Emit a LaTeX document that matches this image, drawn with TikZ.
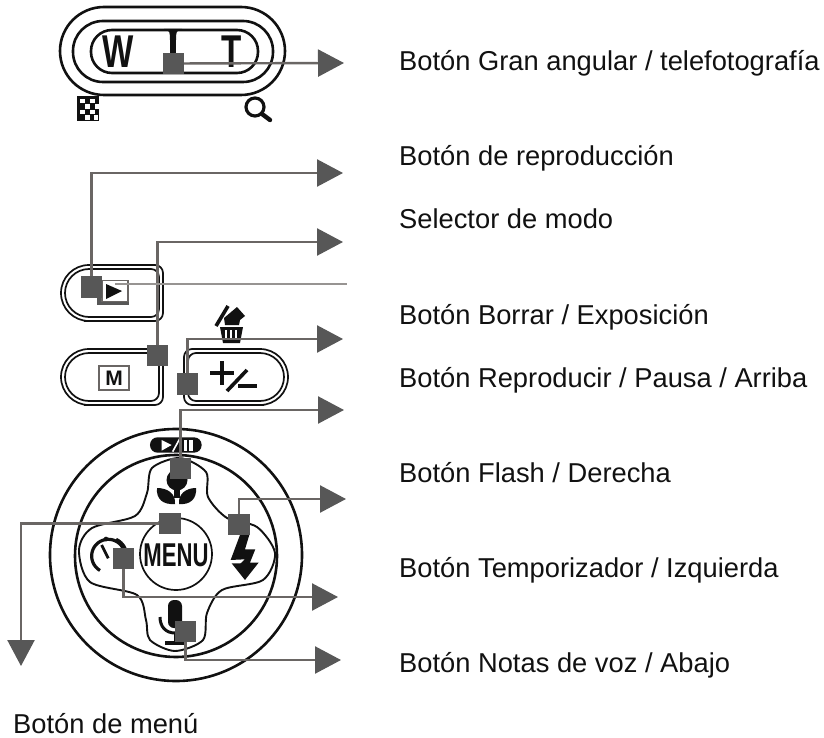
\documentclass[tikz,border=0pt]{standalone}
\usepackage{fontspec}
\setmainfont{Liberation Sans}
\usetikzlibrary{arrows.meta}
\definecolor{sq}{HTML}{575757}
\definecolor{ln}{HTML}{6A6664}
\definecolor{ink}{HTML}{111111}
\tikzset{
  x=1pt,y=-1pt,
  sqnode/.style={fill=sq,minimum width=21pt,minimum height=21pt,inner sep=0pt,draw=none},
  conn/.style={draw=ln,line width=2.4pt,-{Triangle[length=26pt,width=27pt,color=sq]}},
  lab/.style={anchor=base west,inner sep=0pt,text=ink,font=\fontsize{27.3}{30}\selectfont},
  shape line/.style={draw=ink,line width=1.7pt},
  thick line/.style={draw=ink,line width=2.6pt},
}
\newcommand{\leftpill}[5]{%
 \draw[shape line] ({(#1+#3)/2},#2) [rounded corners=#5pt] -- (#1,#2) -- (#1,#4) -- ({(#1+#3)/2},#4) [rounded corners=8pt] -- (#3,#4) -- (#3,#2) -- cycle;}
\newcommand{\rightpill}[5]{%
 \draw[shape line] ({(#1+#3)/2},#2) [rounded corners=#5pt] -- (#3,#2) -- (#3,#4) -- ({(#1+#3)/2},#4) [rounded corners=8pt] -- (#1,#4) -- (#1,#2) -- cycle;}
\begin{document}
\begin{tikzpicture}
\useasboundingbox (0,0) rectangle (824,738);
\fill[white] (0,0) rectangle (824,738);

% zoom / wide-tele button
\draw[thick line,rounded corners=44pt] (60,7) rectangle (285,95);
\draw[thick line,rounded corners=30pt] (73,21) rectangle (273,82);
\draw[thick line,rounded corners=21pt] (91,30) rectangle (258,73);
\draw[line width=6pt,draw=ink] (173,38) -- (173,56);
\fill[ink] (164,29) .. controls (170,30) and (170,33) .. (170,40) -- (176,40) .. controls (176,33) and (176,30) .. (182,29) -- cycle;
\node[inner sep=0pt,text=ink,font=\fontsize{46}{46}\selectfont\bfseries,xscale=.72] (wlab) at (118,52) {W};
\node[inner sep=0pt,text=ink,font=\fontsize{46}{46}\selectfont\bfseries,xscale=.72] (tlab) at (232,52) {T};
% checker
\fill[ink] (77,96) rectangle (99,121);
\foreach \cx/\cy in {80/99,90/99,85/104.5,95/104.5,80/110,90/110,85/115.5,93.5/115.5}
  \fill[white] (\cx,\cy) rectangle ++(4.5,4.5);
% magnifier
\draw[draw=ink,line width=3.2pt] (255,107) circle (9);
\draw[draw=ink,line width=4.4pt,line cap=round] (262,114) -- (270,120);

% play button
\leftpill{61}{265}{163}{321}{28}
\leftpill{65}{269}{159}{317}{24}
\fill[sq] (97,283) rectangle (129,305);
\node[draw=ln,fill=white,line width=1.5pt,minimum width=26pt,minimum height=21pt,inner sep=0pt] (playicon) at (115,291) {};
\fill[ink] (106,284) -- (122,291) -- (106,299) -- cycle;

% M button
\leftpill{61}{349}{163}{405}{28}
\leftpill{65}{353}{159}{401}{24}
\node[draw=ln,fill=white,line width=2.6pt,minimum width=30pt,minimum height=24pt,inner sep=0pt,text=ink,font=\fontsize{21}{21}\selectfont\bfseries] (mbox) at (114,378) {M};

% +/- button
\rightpill{184}{349}{288}{405}{28}
\rightpill{188}{353}{284}{401}{24}
\draw[draw=ink,line width=3.6pt] (222,361) -- (222,385) (210,373) -- (234,373);
\draw[draw=ink,line width=3.6pt] (227,391) -- (247,370);
\draw[draw=ink,line width=3.6pt] (238,386) -- (257,386);
% trash + erase sign
\draw[draw=ink,line width=3.6pt] (216,326) -- (228,306);
\fill[ink] (237,307) -- (245,316) -- (240,320) -- (239,325) -- (225,325) -- (224,318) -- cycle;
\fill[ink] (220,327) -- (243,327) -- (240,343) -- (223,343) -- cycle;
\foreach \tx in {226,231,236} \draw[white,line width=1.3pt] (\tx,330) -- (\tx,339);

% dial
\draw[thick line] (176,555) circle (126);
\draw[thick line] (176,556) circle (101);
% cross
\draw[draw=ink,line width=1.9pt] plot[smooth cycle,tension=.5] coordinates {
  (180,458) (152,468) (147,493) (135,516) (92,528) (79,550) (90,582) (137,595) (146,620) (150,640)
  (175,651) (203,640) (207,613) (222,590) (263,580) (275,553) (257,527) (227,518) (208,497) (206,472)};
% macro flower
\fill[ink] (177,480) circle (10.5);
\fill[ink] (174,478) rectangle (180,498);
\fill[ink] (157,488) .. controls (168,488) and (176,494) .. (175,504) .. controls (163,505) and (156,499) .. (157,488) -- cycle;
\fill[ink] (196,488) .. controls (186,488) and (178,494) .. (179,504) .. controls (190,505) and (197,499) .. (196,488) -- cycle;
% mic
\fill[ink,rounded corners=6pt] (168,600) rectangle (182,628);
\draw[draw=ink,line width=3pt] (160,617) .. controls (160,627) and (166,633) .. (175,633);
\draw[draw=ink,line width=3pt] (175,633) -- (175,642);
\draw[draw=ink,line width=3.2pt] (165,643) -- (186,643);
\begin{scope}[shift={(0,390)},x=.3333pt,y=-.3333pt]
  % play/pause pill
  \fill[ink,rounded corners=7.5pt] (450,142) rectangle (605,188);
  \fill[white] (485,150) -- (515,165) -- (485,182) -- cycle;
  \draw[white,line width=1.6pt] (518,185) -- (540,145);
  \fill[white] (551,150) rectangle (560,182);
  \fill[white] (568,150) rectangle (578,182);
  % flash
  \fill[ink] (720,435) -- (748,435) -- (735,478) -- (766,478) -- (750,518) -- (776,518) -- (735,570) -- (695,520) -- (722,520) -- (735,508) -- (692,510) -- cycle;
  % timer
  \draw[draw=ink,line width=3.2pt] plot[domain=30:310,samples=40] ({325+50*cos(\x+90)},{498+50*sin(\x+90)});
  \draw[draw=ink,line width=3.2pt] plot[domain=-65:-15,samples=12] ({325+55*cos(\x)},{498+55*sin(\x)});
  \draw[draw=ink,line width=2.8pt] (325,505) -- (305,465);
  \fill[ink] (318,447) circle (7);
\end{scope}
\node[inner sep=0pt,text=ink,font=\fontsize{33}{33}\selectfont\bfseries,xscale=.67] (menutxt) at (176,555) {MENU};
\draw[shape line] (176,554) circle (36);

% endpoints
\coordinate (e1) at (344,63);
\coordinate (e2) at (343,173);
\coordinate (e3) at (343,242);
\coordinate (e4) at (347,284);
\coordinate (e5) at (343,339);
\coordinate (e6) at (344,410);
\coordinate (e7) at (346,499);
\coordinate (e8) at (338,597);
\coordinate (e9) at (341,660);
\coordinate (e10) at (21,666);

% square markers
\node[sqnode] (s1) at (173.5,63.5) {};
\node[sqnode] (s2) at (91.5,287) {};
\node[sqnode] (s3) at (157.5,355.5) {};
\node[sqnode] (s5) at (187.5,384) {};
\node[sqnode] (s6) at (180.5,468.5) {};
\node[sqnode] (s7) at (239,524.5) {};
\node[sqnode] (s8) at (123.5,558.5) {};
\node[sqnode] (s9) at (185.5,631.5) {};
\node[sqnode] (s10) at (170,523.5) {};

% connectors
\draw[conn] (s1.center) -- (e1);
\draw[conn] (s2.center) |- (e2);
\draw[conn] (s3.center) |- (e3);
\draw[draw=ln!70,line width=1.4pt] (playicon.center |- e4) -- (e4);
\draw[conn] (s5.center) |- (e5);
\draw[conn] (s6.center) |- (e6);
\draw[conn] (s7.center) |- (e7);
\draw[conn] (s8.center) |- (e8);
\draw[conn] (s9.center) |- (e9);
\draw[conn] (s10.center) -| (e10);
% re-lay markers on connectors
\foreach \s in {s1,s2,s3,s5,s6,s7,s8,s9,s10} \fill[sq] (\s.south west) rectangle (\s.north east);

% labels
\node[lab] (t1) at (399,71) {Botón Gran angular / telefotografía};
\node[lab] (t2) at (399,166) {Botón de reproducción};
\node[lab] (t3) at (399,229) {Selector de modo};
\node[lab] (t4) at (399,324) {Botón Borrar / Exposición};
\node[lab] (t5) at (399,387) {Botón Reproducir / Pausa / Arriba};
\node[lab] (t6) at (399,482) {Botón Flash / Derecha};
\node[lab] (t7) at (399,577) {Botón Temporizador / Izquierda};
\node[lab] (t8) at (399,672) {Botón Notas de voz / Abajo};
\node[lab] (t9) at (13,733) {Botón de menú};
\end{tikzpicture}
\end{document}
